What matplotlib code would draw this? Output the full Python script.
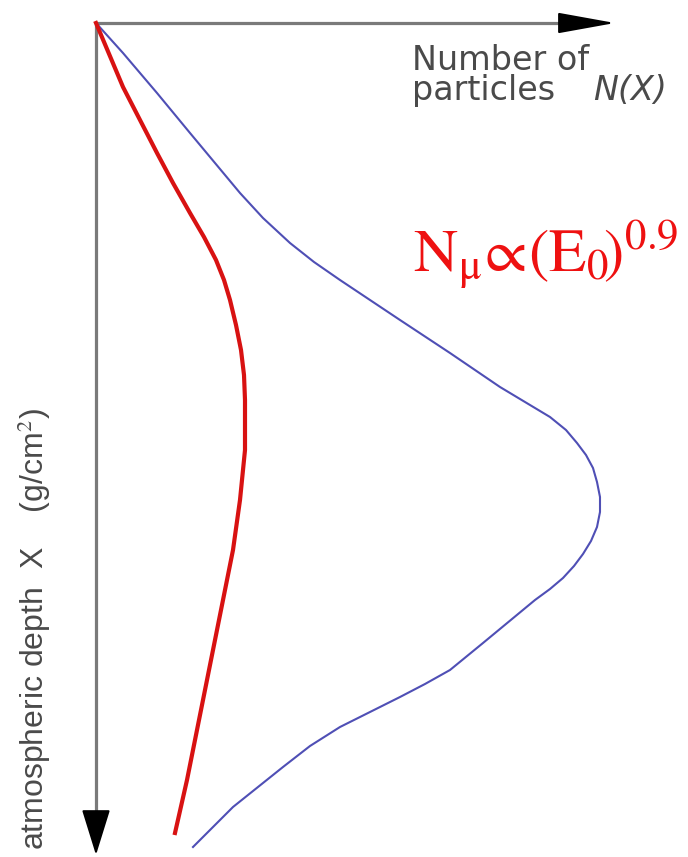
import matplotlib.pyplot as plt

# values (arbitrary units: particle number vs depth)
blue_n = [0, 27, 61, 94, 144, 167, 194, 218, 244, 304, 354, 404, 454, 470,
          481, 490, 497, 501, 504, 504, 501, 495, 487, 478, 467, 454, 439,
          387, 354, 329, 304, 274, 244, 214, 187, 137, 97]
blue_x = [0, 30, 70, 110, 170, 195, 220, 239, 257, 297, 330, 364, 394, 407,
          420, 432, 445, 459, 474, 489, 504, 518, 531, 543, 555, 566, 577,
          620, 647, 661, 674, 689, 704, 723, 744, 784, 824]

red_n = [0, 27, 44, 61, 77, 94, 108, 120, 128, 134, 140, 145, 148, 149, 149,
         144, 137, 127, 121, 111, 101, 91, 79]
red_x = [0, 64, 97, 130, 160, 190, 214, 237, 257, 277, 302, 327, 352, 377,
         427, 477, 527, 577, 607, 657, 707, 757, 810]

x_label = "atmospheric depth  X    (g/cm$^2$)"
formula = r"$\mathrm{N}_{\mathrm{\mu}}\!\propto\!(\mathrm{E}_{0}\!)^{0.9}$"

plt.rcParams["mathtext.fontset"] = "stix"

fig = plt.figure(figsize=(6.88, 8.57), dpi=100)
ax = fig.add_axes([0, 0, 1, 1])
ax.set_xlim(-96, 688 - 96)
ax.set_ylim(857 - 23, -23)
ax.axis("off")

# axes drawn as arrows
ax.plot([0, 475], [0, 0], color="#7a7a7a", lw=2.3, solid_capstyle="butt")
ax.plot([0, 0], [0, 800], color="#7a7a7a", lw=2.3, solid_capstyle="butt")
ax.annotate("", xy=(519, 0), xytext=(465, 0),
            arrowprops=dict(arrowstyle="-|>,head_length=3.6,head_width=0.65",
                            color="black", lw=1.5, shrinkA=0, shrinkB=0))
ax.annotate("", xy=(0, 832), xytext=(0, 790),
            arrowprops=dict(arrowstyle="-|>,head_length=2.9,head_width=0.9",
                            color="black", lw=1.5, shrinkA=0, shrinkB=0))

ax.plot(blue_n, blue_x, color="#4f4fb5", lw=1.5)
ax.plot(red_n, red_x, color="#d81212", lw=3.0)

grey = "#4a4a4a"
ax.text(316, 47, "Number of", fontsize=24, color=grey, va="baseline",
        family="DejaVu Sans")
ax.text(316, 77, "particles", fontsize=24, color=grey, va="baseline",
        family="DejaVu Sans")
ax.text(497, 77, "N(X)", fontsize=24, color=grey, va="baseline",
        style="italic", family="DejaVu Sans")
ax.text(317, 249, formula, fontsize=44, color="#ee1111", va="baseline",
        ha="left")
ax.text(-62, 827, x_label, fontsize=23, color=grey, rotation=90,
        va="bottom", ha="center", family="Liberation Sans")

fig.savefig("out.png", dpi=100)
